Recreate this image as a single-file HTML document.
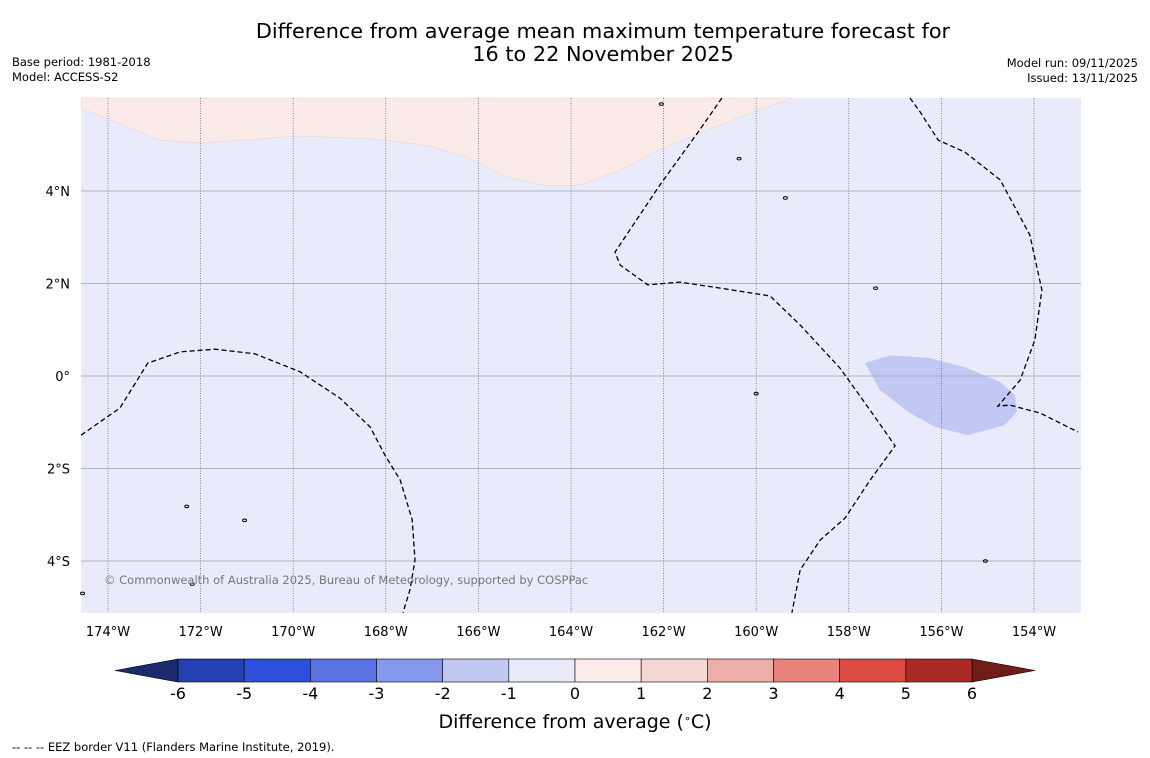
<!DOCTYPE html>
<html><head><meta charset="utf-8"><style>
body{margin:0;background:#fff;width:1150px;height:758px;overflow:hidden;font-family:"DejaVu Sans",sans-serif}
svg{position:absolute;left:0;top:0;font-family:"DejaVu Sans",sans-serif}
</style></head><body>
<svg id="chart" width="1150" height="758">
<text x="603" y="38" text-anchor="middle" font-size="20.8">Difference from average mean maximum temperature forecast for</text>
<text x="603" y="61" text-anchor="middle" font-size="20.8">16 to 22 November 2025</text>
<text x="12" y="66" font-size="11.5">Base period: 1981-2018</text>
<text x="12" y="81" font-size="11.5">Model: ACCESS-S2</text>
<text x="1138" y="67" font-size="11.5" text-anchor="end">Model run: 09/11/2025</text>
<text x="1138" y="82" font-size="11.5" text-anchor="end">Issued: 13/11/2025</text>
<g id="map"></g>
<text x="104" y="584" font-size="11.5" fill="#777">© Commonwealth of Australia 2025, Bureau of Meteorology, supported by COSPPac</text>
<g id="cbar"></g>
<text x="575" y="728" text-anchor="middle" font-size="19">Difference from average (<tspan baseline-shift="super" font-size="11">∘</tspan>C)</text>
<text x="12" y="751" font-size="11.5">--  --  -- EEZ border V11 (Flanders Marine Institute, 2019).</text>
</svg>
<script>
const lonTicks=[-174,-172,-170,-168,-166,-164,-162,-160,-158,-156,-154];
const latTicks=[4,2,0,-2,-4];
const pinkLon=[-174.58,-172.88,-172.01,-169.85,-168.13,-167.05,-166.19,-165.43,-164.57,-163.81,-162.95,-162.09,-161.22,-160.35,-159.21];
const pinkLat=[5.79,5.10,5.04,5.19,5.12,4.97,4.71,4.32,4.11,4.13,4.45,4.89,5.25,5.60,6.01];
const blueLon=[-157.65,-157.11,-156.25,-155.49,-154.73,-154.41,-154.37,-154.63,-155.43,-156.14,-156.68,-157.33];
const blueLat=[0.28,0.45,0.39,0.19,-0.13,-0.41,-0.78,-1.06,-1.28,-1.10,-0.80,-0.30];
const eez1Lon=[-174.58,-173.74,-173.14,-172.44,-171.69,-170.83,-169.85,-168.99,-168.34,-168.02,-167.69,-167.43,-167.37,-167.48,-167.63];
const eez1Lat=[-1.28,-0.69,0.28,0.52,0.58,0.48,0.09,-0.48,-1.10,-1.71,-2.25,-3.11,-3.98,-4.63,-5.12];
const eez2Lon=[-160.74,-161.22,-162.08,-163.05,-162.94,-162.34,-161.65,-160.78,-159.70,-159.05,-158.19,-157.54,-157.00,-157.54,-158.08,-158.62,-159.05,-159.23];
const eez2Lat=[6.01,5.32,4.13,2.68,2.40,1.97,2.03,1.90,1.73,1.10,0.17,-0.74,-1.51,-2.25,-3.07,-3.55,-4.19,-5.12];
const eez3Lon=[-156.68,-156.46,-156.07,-155.49,-154.73,-154.09,-153.83,-153.98,-154.30,-154.78,-154.52,-153.87,-153.05];
const eez3Lat=[6.01,5.71,5.10,4.84,4.24,3.05,1.86,0.78,-0.09,-0.65,-0.63,-0.80,-1.21];
const islandLon=[-162.05,-160.37,-159.37,-157.42,-172.3,-171.05,-172.18,-155.05,-160.0,-174.55];
const islandLat=[5.88,4.70,3.85,1.90,-2.82,-3.12,-4.50,-4.00,-0.38,-4.70];
const cbLevels=[-6,-5,-4,-3,-2,-1,0,1,2,3,4,5,6];
const cbColors=["#2540b0","#2e4fdd","#5872e2","#8598ec","#c1c9f2","#e9ebf9","#fbece9","#f4d7d5","#eeaeaa","#e8837c","#dc4b42","#a92a24"];

const NS="http://www.w3.org/2000/svg";
const X0=81,X1=1081,Y0=98,Y1=613;
const lx=l=>108+(l+174)*46.3;
const ly=l=>376-l*46.25;
function mk(tag,attrs,parent){const e=document.createElementNS(NS,tag);for(const k in attrs)e.setAttribute(k,attrs[k]);parent.appendChild(e);return e;}
const map=document.getElementById('map');
let e=mk('rect',{x:X0,y:Y0,width:X1-X0,height:Y1-Y0,fill:'#e9ebfa'},map);


function pts(lo,la){return lo.map((v,i)=>lx(v).toFixed(1)+','+ly(la[i]).toFixed(1)).join(' ');}
e=mk('polygon',{points:lx(-174.58)+','+Y0+' '+pts(pinkLon,pinkLat),fill:'#fbebe8',stroke:'#e8d0d0','stroke-width':0.5},map);


e=mk('polygon',{points:pts(blueLon,blueLat),fill:'#c1c8f3'},map);


latTicks.forEach(t=>{
 e=mk('line',{x1:X0,x2:X1,y1:ly(t),y2:ly(t),stroke:'#a0a4b8','stroke-width':0.8},map);
 
 
 const lab=mk('text',{x:70,y:ly(t)+5,'text-anchor':'end','font-size':13},map);
 lab.textContent=t===0?'0°':Math.abs(t)+'°'+(t>0?'N':'S');
 
 
});
lonTicks.forEach(t=>{
 e=mk('line',{x1:lx(t),x2:lx(t),y1:Y0,y2:Y1,stroke:'#555a70','stroke-width':0.7,'stroke-dasharray':'1,1.5'},map);
 
 
 const lab=mk('text',{x:lx(t),y:636,'text-anchor':'middle','font-size':13},map);
 lab.textContent=Math.abs(t)+'°W';
 
 
});
[[eez1Lon,eez1Lat],[eez2Lon,eez2Lat],[eez3Lon,eez3Lat]].forEach(([lo,la])=>{
 e=mk('polyline',{points:pts(lo,la),fill:'none',stroke:'#000','stroke-width':1.3,'stroke-dasharray':'5,3'},map);
 
 
});
islandLon.forEach((v,i)=>{
 e=mk('ellipse',{cx:lx(v),cy:ly(islandLat[i]),rx:2,ry:1.3,fill:'none',stroke:'#000','stroke-width':1},map);
 
 
});
const cb=document.getElementById('cbar');
const cx=v=>178+(v+6)*(972-178)/12;
const CY0=659,CY1=682;
e=mk('polygon',{points:`${cx(-6)},${CY0} 115,670.5 ${cx(-6)},${CY1}`,fill:'#1b2a6e',stroke:'#000','stroke-width':0.6},cb);


e=mk('polygon',{points:`${cx(6)},${CY0} 1035,670.5 ${cx(6)},${CY1}`,fill:'#6f1d19',stroke:'#000','stroke-width':0.6},cb);


cbColors.forEach((c,i)=>{
 e=mk('rect',{x:cx(cbLevels[i]),y:CY0,width:cx(cbLevels[i+1])-cx(cbLevels[i]),height:CY1-CY0,fill:c,stroke:'#000','stroke-width':0.6},cb);
 
 
});
cbLevels.forEach(v=>{
 const t=mk('text',{x:cx(v),y:699,'text-anchor':'middle','font-size':16},cb);
 t.textContent=v;
 
 
});
</script>
</body></html>
